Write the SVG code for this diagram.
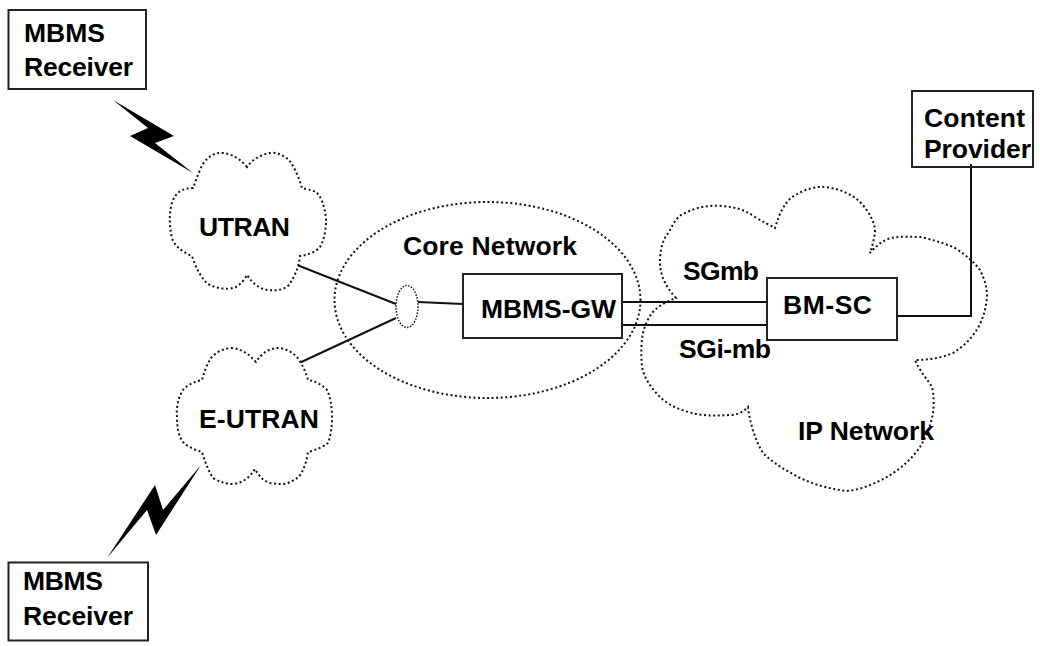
<svg xmlns="http://www.w3.org/2000/svg" width="1040" height="646" viewBox="0 0 1040 646">
<style>
text{font-family:"Liberation Sans",Arial,sans-serif;font-weight:700;font-size:26.500px;fill:#000}
.box{fill:#fff;stroke:#222;stroke-width:2}
.cloud{fill:#fff;stroke:#111;stroke-width:2;stroke-dasharray:2 2.600}
.link{fill:none;stroke:#111;stroke-width:2}
.bolt{fill:#000}
</style>
<rect width="1040" height="646" fill="#fff"/>
<g id="ip-network-cloud"><path class="cloud" d="M676 298C664 285 659 272 660 258C661 245 664 238 669 232C673 224 677 216 685 213C697 207 709 205 722 206C736 207 745 210 755 217C763 222 770 225 775 228C779 214 784 204 792 197C803 190 814 186 826 187C840 189 852 194 861 203C869 212 875 222 875 232C874 240 872 247 870 253C876 246 883 240 891 238C901 236 911 237 921 237C933 240 944 243 955 248C966 255 974 262 980 270C985 280 987 288 987 297C986 309 983 318 978 328C972 338 964 346 953 353C941 358 928 360 915 360C920 372 928 380 932 387C934 396 934 405 933 413C931 425 926 437 920 447C911 460 899 470 887 477C874 484 860 490 847 491C830 489 815 485 800 478C785 470 773 463 763 453C755 440 750 423 748 407C743 412 737 415 730 415C717 416 704 416 692 413C680 410 668 405 660 397C650 387 644 377 642 367C641 355 641 343 643 333C645 325 648 318 652 313C659 305 668 301 676 298Z"/></g>
<g id="core-network-cloud"><ellipse class="cloud" cx="487.500" cy="300" rx="153" ry="98"/></g>
<g id="connectors">
<path class="link" d="M297 265L396 304M297 364L396 318M418 302L463 304M622 302H767M622 325H767M897 316H971V164"/>
<path class="bolt" d="M113 100L174 136L155 143L193 173L130 136L148 128Z"/>
<path class="bolt" d="M107 558L155 485L163 510L201 465L156 535L147 510Z"/>
</g>
<g id="utran"><path class="cloud" d="M247 167C238 156 226 152 218 153C209 155 203 162 200 170C197 177 195 183 193 188C182 188 175 193 172 203C169 213 169 225 172 238C175 247 183 252 192 256C196 268 201 278 208 284C217 289 228 290 236 287C241 284 245 279 247 275C253 284 260 289 268 290C276 291 284 290 289 285C295 276 299 266 300 256C308 255 316 252 320 247C325 238 326 228 326 220C325 205 320 195 316 192C311 190 306 189 302 188C299 178 295 168 289 160C283 155 276 152 270 153C259 155 252 160 247 167Z"/><text x="199" y="236" textLength="91" lengthAdjust="spacing">UTRAN</text></g>
<g id="e-utran"><path class="cloud" d="M256 362C250 356 245 350 233 348C224 348 216 352 211 358C206 366 204 373 202 380C194 382 187 385 183 390C178 398 176 408 177 417C177 428 179 437 183 442C188 447 195 450 202 452C205 462 209 472 213 478C220 482 226 484 233 484C243 483 250 477 255 469C259 476 263 481 270 483C275 484 280 484 285 484C294 481 300 477 302 472C305 466 307 459 308 452C316 450 323 447 328 443C331 435 332 426 332 417C332 406 330 396 327 390C321 384 315 381 308 380C306 372 302 364 297 357C291 351 284 348 277 348C268 349 262 353 256 362Z"/><text x="199" y="428" textLength="120" lengthAdjust="spacing">E-UTRAN</text></g>
<g id="receiver-top"><rect class="box" x="8.500" y="10" width="137.500" height="79"/><text x="24" y="42" textLength="81" lengthAdjust="spacing">MBMS</text><text x="24" y="76" textLength="109" lengthAdjust="spacing">Receiver</text></g>
<g id="receiver-bottom"><rect class="box" x="8.500" y="562.500" width="139.500" height="78"/><text x="23" y="590" textLength="80" lengthAdjust="spacing">MBMS</text><text x="23" y="625" textLength="110" lengthAdjust="spacing">Receiver</text></g>
<g id="core-label"><text x="403" y="255" textLength="174" lengthAdjust="spacing">Core Network</text></g>
<g id="junction"><ellipse class="cloud" cx="407" cy="306.500" rx="11" ry="21" style="stroke-width:1.500;stroke-dasharray:1.500 1.500"/></g>
<g id="mbms-gw"><rect class="box" x="463" y="274" width="159" height="64"/><text x="481" y="318" textLength="135" lengthAdjust="spacing">MBMS-GW</text></g>
<g id="bm-sc"><rect class="box" x="767" y="278" width="130" height="62"/><text x="783" y="314" textLength="89" lengthAdjust="spacing">BM-SC</text></g>
<g id="labels"><text x="683" y="280" textLength="76" lengthAdjust="spacing">SGmb</text><text x="679" y="358" textLength="92" lengthAdjust="spacing">SGi-mb</text><text x="798" y="440" textLength="136" lengthAdjust="spacing">IP Network</text></g>
<g id="content-provider"><rect class="box" x="912" y="91" width="121" height="76" style="fill:none"/><text x="924" y="127" textLength="101" lengthAdjust="spacing">Content</text><text x="924" y="158" textLength="107" lengthAdjust="spacing">Provider</text></g>
</svg>
